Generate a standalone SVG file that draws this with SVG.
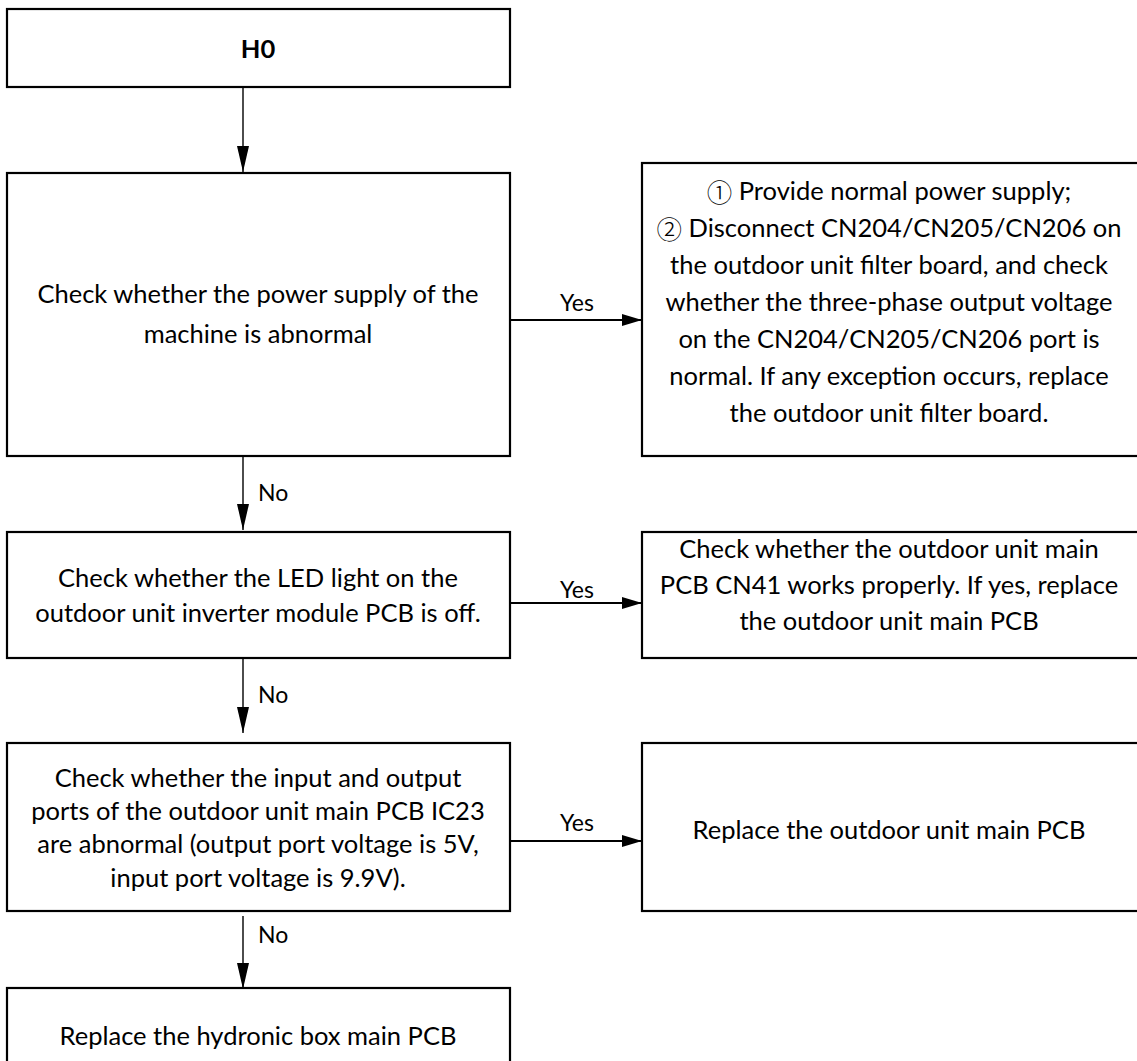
<svg xmlns="http://www.w3.org/2000/svg" width="1137" height="1061" viewBox="0 0 1137 1061">
<style>
.box{fill:#fff;stroke:#000;stroke-width:2.2}
.t{font-family:Lato,"Liberation Sans",sans-serif;font-size:25.5px;fill:#000;text-anchor:middle;dominant-baseline:central}
.cj{font-family:"Noto Sans CJK SC",sans-serif;font-weight:300}
.lbl{font-family:Lato,"Liberation Sans",sans-serif;font-size:23px;fill:#000;dominant-baseline:central}
.c{stroke:#000;stroke-width:1.4;fill:none}
.ch{stroke:#000;stroke-width:2;fill:none}
</style>
<defs>
<marker id="ah" viewBox="0 0 20 12" refX="20" refY="6" markerUnits="userSpaceOnUse" markerWidth="20" markerHeight="12" orient="auto">
<path d="M0,0 L20,6 L0,12 Z" fill="#000"/>
</marker>
<marker id="av" viewBox="0 0 26 12" refX="26" refY="6" markerUnits="userSpaceOnUse" markerWidth="26" markerHeight="12" orient="auto">
<path d="M0,0 L26,6 L0,12 Z" fill="#000"/>
</marker>
</defs>
<rect width="1137" height="1061" fill="#fff"/>
<g id="n-h0">
<rect class="box" x="7" y="9" width="503" height="78"/>
<text class="t" x="258" y="48" font-weight="bold" font-size="23">H0</text>
</g>
<g id="n-power">
<rect class="box" x="7" y="173" width="503" height="283"/>
<text class="t" x="258" y="293">Check whether the power supply of the</text>
<text class="t" x="258" y="333">machine is abnormal</text>
</g>
<g id="n-power-yes">
<rect class="box" x="642" y="163" width="500" height="293"/>
<text class="t" x="889" y="190"><tspan class="cj">①</tspan>  Provide normal power supply;</text>
<text class="t" x="889" y="227"><tspan class="cj">②</tspan>  Disconnect CN204/CN205/CN206 on</text>
<text class="t" x="889" y="264">the outdoor unit filter board, and check</text>
<text class="t" x="889" y="301">whether the three-phase output voltage</text>
<text class="t" x="889" y="338">on the CN204/CN205/CN206 port is</text>
<text class="t" x="889" y="375">normal. If any exception occurs, replace</text>
<text class="t" x="889" y="412">the outdoor unit filter board.</text>
</g>
<g id="n-led">
<rect class="box" x="7" y="532" width="503" height="126"/>
<text class="t" x="258" y="577">Check whether the LED light on the</text>
<text class="t" x="258" y="612">outdoor unit inverter module PCB is off.</text>
</g>
<g id="n-led-yes">
<rect class="box" x="642" y="532" width="500" height="126"/>
<text class="t" x="889" y="548">Check whether the outdoor unit main</text>
<text class="t" x="889" y="584">PCB CN41 works properly. If yes, replace</text>
<text class="t" x="889" y="620">the outdoor unit main PCB</text>
</g>
<g id="n-ic23">
<rect class="box" x="7" y="743" width="503" height="168"/>
<text class="t" x="258" y="777">Check whether the input and output</text>
<text class="t" x="258" y="810">ports of the outdoor unit main PCB IC23</text>
<text class="t" x="258" y="843">are abnormal (output port voltage is 5V,</text>
<text class="t" x="258" y="877">input port voltage is 9.9V).</text>
</g>
<g id="n-ic23-yes">
<rect class="box" x="642" y="743" width="500" height="168"/>
<text class="t" x="889" y="829">Replace the outdoor unit main PCB</text>
</g>
<g id="n-hydronic">
<rect class="box" x="7" y="988" width="503" height="90"/>
<text class="t" x="258" y="1035">Replace the hydronic box main PCB</text>
</g>
<g id="connectors">
<line class="c" x1="243" y1="87" x2="243" y2="172" marker-end="url(#av)"/>
<line class="ch" x1="510" y1="320" x2="642" y2="320" marker-end="url(#ah)"/>
<text class="lbl" x="577" y="302" text-anchor="middle">Yes</text>
<line class="c" x1="243" y1="456" x2="243" y2="530" marker-end="url(#av)"/>
<text class="lbl" x="258" y="492">No</text>
<line class="ch" x1="510" y1="603" x2="642" y2="603" marker-end="url(#ah)"/>
<text class="lbl" x="577" y="589" text-anchor="middle">Yes</text>
<line class="c" x1="243" y1="658" x2="243" y2="733" marker-end="url(#av)"/>
<text class="lbl" x="258" y="694">No</text>
<line class="ch" x1="510" y1="841" x2="642" y2="841" marker-end="url(#ah)"/>
<text class="lbl" x="577" y="822" text-anchor="middle">Yes</text>
<line class="c" x1="243" y1="916" x2="243" y2="989" marker-end="url(#av)"/>
<text class="lbl" x="258" y="934">No</text>
</g>
</svg>
